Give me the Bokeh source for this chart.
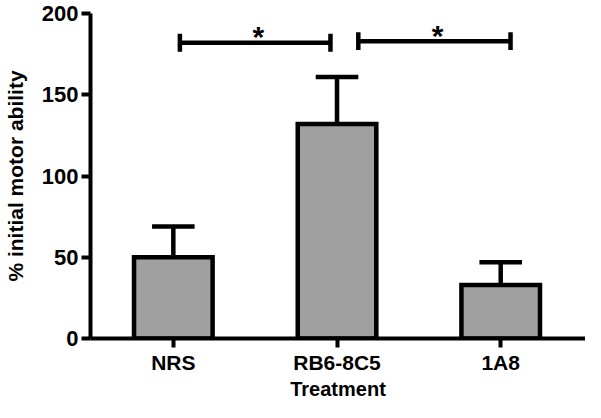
from bokeh.plotting import figure
from bokeh.models import FixedTicker, ColumnDataSource
from bokeh.core.properties import value
from bokeh.embed import file_html
from bokeh.resources import INLINE

categories = ["NRS", "RB6-8C5", "1A8"]
means = [50, 132, 33]
errors = [19, 29, 14]
y_ticks = [0, 50, 100, 150, 200]
# significance brackets: start / end category index, height, label
sig_start = [0.04, 1.13]
sig_end = [0.96, 2.06]
sig_height = [182, 183]
sig_label = ["*", "*"]

FONT = "Liberation Sans"
x = list(range(len(categories)))

p = figure(width=585, height=402, output_backend="svg", toolbar_location=None,
           x_range=(-0.506, 2.518), y_range=(0, 200),
           min_border_left=89, min_border_right=0, min_border_top=13, min_border_bottom=62)
p.outline_line_color = None
p.xgrid.visible = False
p.ygrid.visible = False
p.background_fill_color = "white"
p.border_fill_color = "white"

src = ColumnDataSource(dict(x=x, top=means, up=[m + e for m, e in zip(means, errors)]))
p.vbar(x="x", top="top", bottom=0, width=0.48, source=src,
       fill_color="#a0a0a0", line_color="black", line_width=4.5, line_join="miter")
p.segment(x0="x", y0="top", x1="x", y1="up", source=src, line_color="black", line_width=4.5)
cap = 0.13
p.segment(x0=[v - cap for v in x], y0=src.data["up"], x1=[v + cap for v in x], y1=src.data["up"],
          line_color="black", line_width=4.5)

# brackets
p.segment(x0=sig_start, y0=sig_height, x1=sig_end, y1=sig_height, line_color="black", line_width=4.5)
h = 5.5
p.segment(x0=sig_start, y0=[v - h for v in sig_height], x1=sig_start, y1=[v + h for v in sig_height],
          line_color="black", line_width=4.5)
p.segment(x0=sig_end, y0=[v - h for v in sig_height], x1=sig_end, y1=[v + h for v in sig_height],
          line_color="black", line_width=4.5)
p.text(x=[(a + b) / 2 + 0.02 for a, b in zip(sig_start, sig_end)], y=sig_height, text=sig_label,
       text_font=value(FONT), text_font_style="bold", text_font_size="30px",
       text_align="center", text_baseline="alphabetic", text_color="black", y_offset=-6)

for ax in (p.xaxis[0], p.yaxis[0]):
    ax.axis_line_width = 4
    ax.axis_line_color = "black"
    ax.major_tick_line_width = 4
    ax.major_tick_line_color = "black"
    ax.minor_tick_line_color = None
    ax.major_tick_in = 0
    ax.major_tick_out = 9
    ax.major_label_text_font = FONT
    ax.major_label_text_font_style = "bold"
    ax.major_label_text_color = "black"
    ax.axis_label_text_font = FONT
    ax.axis_label_text_font_style = "bold"
    ax.axis_label_text_color = "black"

p.xaxis.ticker = FixedTicker(ticks=x)
p.xaxis.major_label_overrides = {i: c for i, c in zip(x, categories)}
p.xaxis.major_label_text_font_size = "21px"
p.xaxis.major_label_standoff = 3
p.xaxis.axis_label = "Treatment"
p.xaxis.axis_label_text_font_size = "20px"
p.xaxis.axis_label_standoff = 1

p.yaxis.ticker = FixedTicker(ticks=y_ticks)
p.yaxis.major_label_text_font_size = "22px"
p.yaxis.major_label_standoff = 3
p.yaxis.axis_label = "% initial motor ability"
p.yaxis.axis_label_text_font_size = "21px"
p.yaxis.axis_label_standoff = 12

open("out.html", "w").write(file_html(p, INLINE))
